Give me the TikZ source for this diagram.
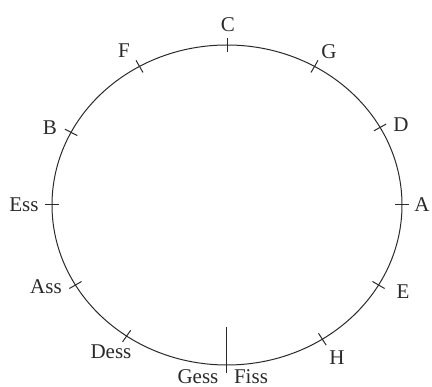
\documentclass[tikz,border=0pt]{standalone}
\usepackage{fontspec}
\setmainfont{Liberation Serif}
\usetikzlibrary{calc}
\definecolor{ink}{HTML}{2A2A2A}
\tikzset{
  every node/.style={font=\fontsize{21}{23}\selectfont, text=ink, inner sep=0pt},
  diagram/.style={x=1pt, y=-1pt, line width=1pt, draw=ink},
  ring/.style={draw=ink, line width=1pt},
  tick/.style={draw=ink, line width=1pt},
  key/.style={anchor=center},
}

\begin{document}
\begin{tikzpicture}[diagram]
  \useasboundingbox (0,0) rectangle (432,387);
  \coordinate (ctr) at (227,205);
  \draw[ring] (ctr) ellipse [x radius=175, y radius=160];

  % short ticks, roughly every 30 degrees from the top
  \foreach \a in {0,30,61,90,120,147,215,240,270,297,330} {
    \draw[tick] ({227+168*sin(\a)},{205-153*cos(\a)}) -- ({227+182*sin(\a)},{205-167*cos(\a)});
  }
  % long tick at the bottom
  \coordinate (bot) at (226,327);
  \coordinate (botend) at (226,373);
  \draw[tick] (bot) -- (botend);

  \node[key] (kC) at (228,25) {C};
  \node[key] (kG) at (329,52) {G};
  \node[key] (kD) at (401,125) {D};
  \node[key] (kA) at (422,205) {A};
  \node[key] (kE) at (403,292) {E};
  \node[key] (kH) at (337,358) {H};
  \node[key] (kGess) at (198,377) {Gess};
  \node[key] (kFiss) at (251,377) {Fiss};
  \node[key] (kDess) at (111,352) {Dess};
  \node[key] (kAss) at (46,287) {Ass};
  \node[key] (kEss) at (24,205) {Ess};
  \node[key] (kB) at (50,128) {B};
  \node[key] (kF) at (124,51) {F};
\end{tikzpicture}
\end{document}
